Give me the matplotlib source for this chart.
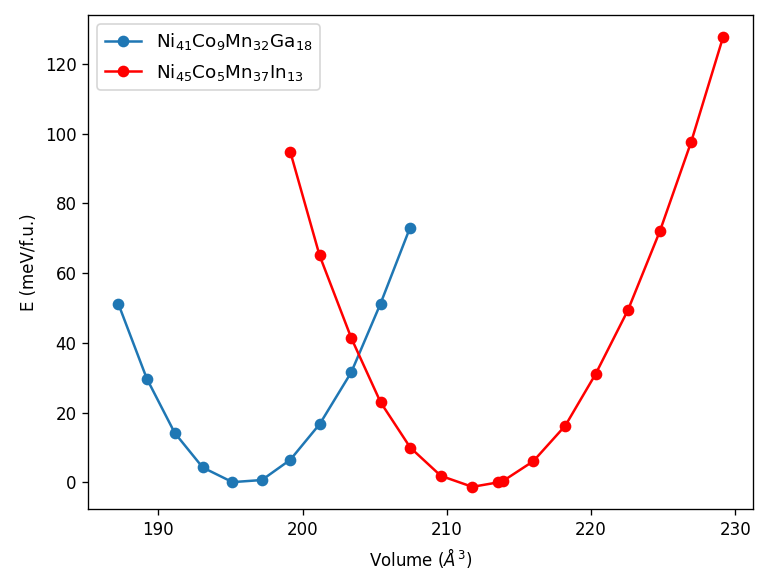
import matplotlib
matplotlib.use("Agg")
import matplotlib.pyplot as plt

# Ni41Co9Mn32Ga18
vol_ga = [187.24, 189.20, 191.14, 193.08, 195.14, 197.18, 199.15, 201.20, 203.38, 205.41, 207.44]
e_ga = [51.1, 29.8, 14.2, 4.3, 0.1, 0.7, 6.5, 16.8, 31.6, 51.3, 72.9]

# Ni45Co5Mn37In13
vol_in = [199.15, 201.18, 203.38, 205.41, 207.47, 209.59, 211.77, 213.52, 213.89,
          216.00, 218.22, 220.32, 222.56, 224.78, 226.95, 229.15]
e_in = [94.8, 65.1, 41.4, 23.0, 10.0, 1.9, -1.25, 0.0, 0.4,
        6.1, 16.3, 31.1, 49.4, 72.1, 97.7, 127.6]

label_ga = r'Ni$_{41}$Co$_{9}$Mn$_{32}$Ga$_{18}$'
label_in = r'Ni$_{45}$Co$_{5}$Mn$_{37}$In$_{13}$'

# original looks like a default-size figure scaled up ~1.2x
fig = plt.figure(figsize=(757 / 120, 572 / 120), dpi=120)
ax = fig.add_subplot(111)
fig.subplots_adjust(left=0.1166, right=0.995, bottom=0.1096, top=0.974)

ax.plot(vol_ga, e_ga, 'o-', color='tab:blue', label=label_ga)
ax.plot(vol_in, e_in, 'o-', color='red', label=label_in)

ax.set_xlabel(r'Volume ($\AA^3$)')
ax.set_ylabel('E (meV/f.u.)')
ax.legend(loc='upper left', fontsize=11)

fig.savefig('out.png', dpi=120)
